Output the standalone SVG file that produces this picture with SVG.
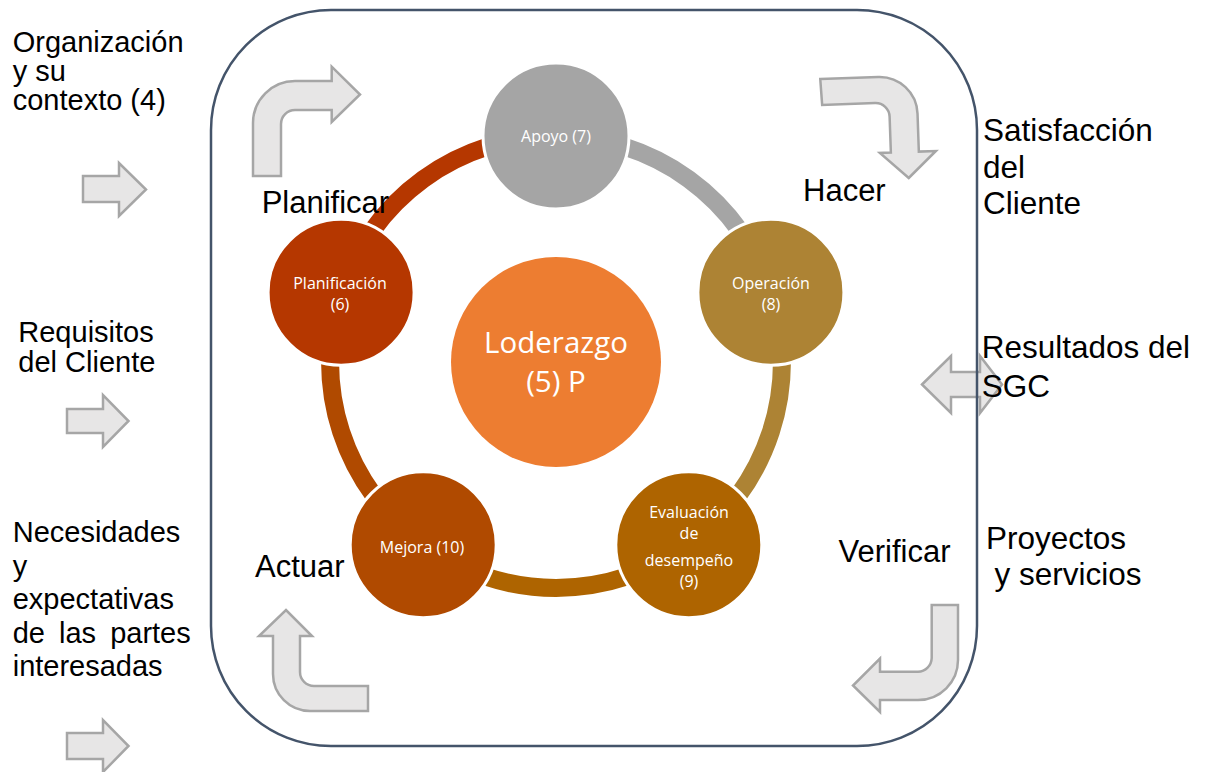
<svg xmlns="http://www.w3.org/2000/svg" width="1207" height="772" viewBox="0 0 1207 772">
  <style>
    .blk { fill: #E7E6E6; stroke: #A6A6A6; stroke-width: 2.5; stroke-linejoin: miter; }
    .frame { fill: none; stroke: #44546A; stroke-width: 2.5; }
    .ring { fill: none; stroke-width: 18; }
    .node { stroke: #FFFFFF; stroke-width: 3; }
    .nt { font-family: "Open Sans", "Liberation Sans", sans-serif; font-size: 16px; fill: #FFFFFF; text-anchor: middle; }
    .big { font-family: "Open Sans", "Liberation Sans", sans-serif; font-size: 29.5px; fill: #FFFFFF; text-anchor: middle; }
    .lbl { font-family: "Liberation Sans", Arial, sans-serif; font-size: 29px; fill: #000000; }
    .rt { font-family: "Liberation Sans", Arial, sans-serif; font-size: 31.5px; fill: #000000; }
    .ph { font-family: "Liberation Sans", Arial, sans-serif; font-size: 31px; fill: #000000; }
  </style>

  <!-- block arrows -->
  <g id="arrows">
    <!-- inputs on the left -->
    <path class="blk" d="M83,176 L119,176 L119,163 L146,189.5 L119,216 L119,202 L83,202 Z"/>
    <path class="blk" d="M67,409 L103,409 L103,395 L128.5,421 L103,447 L103,433 L67,433 Z"/>
    <path class="blk" d="M67,733 L103,733 L103,720 L128.5,746 L103,772 L103,759 L67,759 Z"/>
    <!-- double arrow on the right edge -->
    <path class="blk" d="M922,384.5 L951,356 L951,372 L980,372 L980,356 L1002,384.5 L980,413 L980,397 L951,397 L951,413 Z"/>
    <!-- cycle bent arrows -->
    <path class="blk" d="M253,176 L253,123 A42,42 0 0 1 295,81 L331.7,81 L331.7,66.7 L360,94.5 L331.7,122 L331.7,110 L295,110 A14,14 0 0 0 281,124 L281,176 Z"/>
    <path class="blk" transform="rotate(-2 878 128)" d="M822,77 L880,77 A38,38 0 0 1 918,115 L918,153 L935,153 L907,179 L879,153 L890,153 L890,117 A14,14 0 0 0 876,103 L823,103 Z"/>
    <path class="blk" d="M931.7,605 L958,605 L958,660 A40,40 0 0 1 918,700 L880,700 L880,712 L853,685.5 L880,658.5 L880,671.7 L918,671.7 A14,14 0 0 0 931.7,658 Z"/>
    <path class="blk" d="M368,686 L314,686 A14,14 0 0 1 300,672 L300,636 L312,636 L286,610 L259,636 L273,636 L273,674 A37,37 0 0 0 310,711 L368,711 Z"/>
  </g>

  <!-- system boundary -->
  <rect class="frame" x="211" y="10" width="766" height="736" rx="120" ry="120"/>

  <!-- ring segments between the process nodes -->
  <g id="connectors">
    <path class="ring" stroke="#A5A5A5" d="M556,136 A226,226 0 0 1 770.9,292.2"/>
    <path class="ring" stroke="#AD8334" d="M770.9,292.2 A226,226 0 0 1 688.8,544.8"/>
    <path class="ring" stroke="#AE6400" d="M688.8,544.8 A226,226 0 0 1 423.2,544.8"/>
    <path class="ring" stroke="#B04A00" d="M423.2,544.8 A226,226 0 0 1 341.1,292.2"/>
    <path class="ring" stroke="#B53700" d="M341.1,292.2 A226,226 0 0 1 556,136"/>
  </g>

  <g id="liderazgo">
    <circle cx="556" cy="362" r="105" fill="#ED7D31"/>
    <text class="big" x="556" y="353">Loderazgo</text>
    <text class="big" x="556" y="392">(5) P</text>
  </g>

  <g id="apoyo">
    <circle class="node" cx="556" cy="136" r="73" fill="#A5A5A5"/>
    <text class="nt" x="556" y="141.5">Apoyo (7)</text>
  </g>

  <g id="operacion">
    <circle class="node" cx="770.9" cy="292.2" r="73" fill="#AD8334"/>
    <text class="nt" x="771" y="288.5">Operación</text>
    <text class="nt" x="771" y="309.5">(8)</text>
  </g>

  <g id="evaluacion">
    <circle class="node" cx="688.8" cy="544.8" r="73" fill="#AE6400"/>
    <text class="nt" x="689" y="517.5">Evaluación</text>
    <text class="nt" x="689" y="538.5">de</text>
    <text class="nt" x="689" y="566">desempeño</text>
    <text class="nt" x="689" y="587">(9)</text>
  </g>

  <g id="mejora">
    <circle class="node" cx="423.2" cy="544.8" r="73" fill="#B04A00"/>
    <text class="nt" x="422" y="552.5">Mejora (10)</text>
  </g>

  <g id="planificacion">
    <circle class="node" cx="341.1" cy="292.2" r="73" fill="#B53700"/>
    <text class="nt" x="340" y="288.5">Planificación</text>
    <text class="nt" x="340" y="309.5">(6)</text>
  </g>

  <!-- PHVA phase labels -->
  <g id="phases">
    <text class="ph" x="261.7" y="212.7">Planificar</text>
    <text class="ph" x="803" y="201">Hacer</text>
    <text class="ph" x="838.5" y="561.5">Verificar</text>
    <text class="ph" x="255" y="576.7">Actuar</text>
  </g>

  <!-- inputs -->
  <g id="entradas">
    <text class="lbl" x="12.7" y="51.7">Organización</text>
    <text class="lbl" x="12.7" y="81">y su</text>
    <text class="lbl" x="12.7" y="110.3">contexto (4)</text>

    <text class="lbl" x="18.3" y="341.7">Requisitos</text>
    <text class="lbl" x="18.3" y="371.5">del Cliente</text>

    <text class="lbl" x="12.7" y="542">Necesidades</text>
    <text class="lbl" x="12.7" y="575.5">y</text>
    <text class="lbl" x="12.7" y="609">expectativas</text>
    <text class="lbl" x="12.7" y="642.5" word-spacing="6">de las partes</text>
    <text class="lbl" x="12.7" y="676">interesadas</text>
  </g>

  <!-- outputs -->
  <g id="salidas">
    <text class="rt" x="983" y="141">Satisfacción</text>
    <text class="rt" x="983" y="177.5">del</text>
    <text class="rt" x="983" y="214">Cliente</text>

    <text class="rt" x="981.7" y="358.3">Resultados del</text>
    <text class="rt" x="981.7" y="396.7">SGC</text>

    <text class="rt" x="986" y="549.3">Proyectos</text>
    <text class="rt" x="994.5" y="585">y servicios</text>
  </g>
</svg>
